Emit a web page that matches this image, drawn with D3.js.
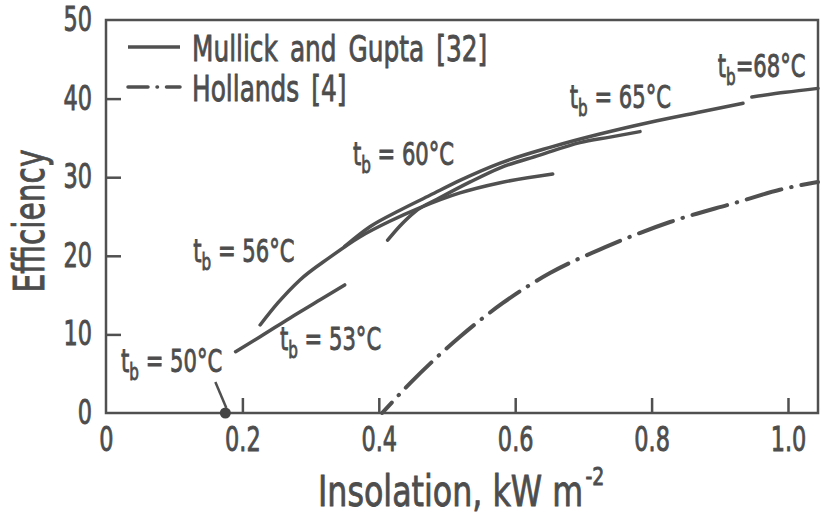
<!DOCTYPE html>
<html lang="en">

<head>
    <meta charset="UTF-8">
    <title>Efficiency vs Insolation</title>
    <script src="https://d3js.org/d3.v7.min.js"></script>
    <style>
        body {
            margin: 0;
            padding: 0;
            background: #fff;
        }

        text {
            font-family: "DejaVu Sans", "Liberation Sans", sans-serif;
            fill: #4d4d4d;
            stroke: #4d4d4d;
            stroke-width: 0.9px;
        }
    </style>
</head>

<body>
    <div id="main"></div>

    <script>
        // values: [insolation kW/m2, efficiency %]
        var curve53 = [[0.19, 7.8], [0.226, 9.7], [0.27, 12.1], [0.314, 14.4], [0.35, 16.3]];
        var curve56 = [[0.226, 11.2], [0.252, 14.0], [0.284, 16.9], [0.328, 19.8], [0.372, 22.4],
            [0.416, 24.4], [0.46, 26.1], [0.519, 28.0], [0.578, 29.3], [0.655, 30.4]];
        var curve60 = [[0.413, 22.0], [0.431, 23.8], [0.453, 25.6], [0.49, 27.4], [0.534, 29.4],
            [0.578, 31.2], [0.636, 32.8], [0.695, 34.4], [0.739, 35.1], [0.783, 35.8]];
        var curve65 = [[0.35, 21.2], [0.387, 23.7], [0.431, 25.8], [0.475, 27.7], [0.519, 29.6],
            [0.578, 31.8], [0.651, 33.8], [0.724, 35.5], [0.798, 37.0], [0.871, 38.3], [0.934, 39.4]];
        var curve68 = [[0.947, 40.2], [0.996, 40.8], [1.044, 41.3]];
        var hollands = [[0.405, 0], [0.446, 3.8], [0.519, 9.7], [0.582, 14.0], [0.651, 17.8],
            [0.732, 21.1], [0.827, 24.3], [0.925, 26.8], [0.988, 28.4], [1.044, 29.4]];
        var point50 = [0.175, 0];

        var xTicks = [0, 0.2, 0.4, 0.6, 0.8, 1.0];
        var xTickLabels = ["0", "0.2", "0.4", "0.6", "0.8", "1.0"];
        var yTicks = [0, 10, 20, 30, 40, 50];

        var tbLabels = ["50", "53", "56", "60", "65", "68"];
        var legendNames = ["Mullick and Gupta [32]", "Hollands [4]"];

        var width = 821;
        var height = 519;
        var ink = "#505050";

        var svg = d3.select("#main")
            .append("svg")
            .attr("width", width)
            .attr("height", height);

        var x = d3.scaleLinear().domain([0, 1.044]).range([106, 818]);
        var y = d3.scaleLinear().domain([0, 50]).range([413, 20]);

        // the original lettering is a narrow DIN face, so squeeze text sideways
        function narrowText(parent, px, py, sx) {
            return parent.append("text")
                .attr("transform", "translate(" + px + "," + py + ") scale(" + sx + ",1)");
        }

        // frame
        svg.append("rect")
            .attr("x", x(0)).attr("y", y(50))
            .attr("width", x(1.044) - x(0)).attr("height", y(0) - y(50))
            .attr("fill", "none").attr("stroke", ink).attr("stroke-width", 2.5);

        var xAxis = svg.append("g")
            .attr("transform", "translate(0," + y(0) + ")")
            .call(d3.axisBottom(x).tickValues(xTicks)
                .tickFormat(function(d, i) { return xTickLabels[i]; })
                .tickSize(-15).tickPadding(15));

        var yAxis = svg.append("g")
            .attr("transform", "translate(" + x(0) + ",0)")
            .call(d3.axisLeft(y).tickValues(yTicks).tickSize(-15).tickPadding(14));

        var tickSx = 0.68;
        [xAxis, yAxis].forEach(function(ax) {
            ax.select(".domain").remove();
            ax.selectAll("line").attr("stroke", ink).attr("stroke-width", 2.5);
            ax.selectAll("text")
                .attr("font-family", null)
                .attr("fill", null)
                .style("font-size", "33px")
                .attr("transform", "scale(" + tickSx + ",1)")
                .attr("x", function() {
                    var v = d3.select(this).attr("x");
                    return v == null ? null : +v / tickSx;
                });
        });
        xAxis.selectAll(".tick").filter(function(d) { return d == 0; }).select("line").remove();
        yAxis.selectAll(".tick").filter(function(d) { return d == 0 || d == 50; }).select("line").remove();

        // axis titles
        svg.append("text")
            .attr("transform", "translate(44,221) rotate(-90)")
            .attr("text-anchor", "middle")
            .attr("textLength", 143)
            .attr("lengthAdjust", "spacingAndGlyphs")
            .style("font-size", "42px")
            .text("Efficiency");

        var xt = narrowText(svg, 318, 506, 0.755).style("font-size", "42px");
        xt.append("tspan").text("Insolation, kW m");
        xt.append("tspan").attr("dx", 3).attr("dy", -21).style("font-size", "25px").text("-2");

        // curves
        var line = d3.line()
            .x(function(d) { return x(d[0]); })
            .y(function(d) { return y(d[1]); })
            .curve(d3.curveMonotoneX);

        var plot = svg.append("g");

        [curve53, curve56, curve60, curve65, curve68].forEach(function(c) {
            plot.append("path")
                .attr("d", line(c))
                .attr("fill", "none")
                .attr("stroke", ink)
                .attr("stroke-width", 3.5)
                .attr("stroke-linecap", "round");
        });

        plot.append("path")
            .attr("d", line(hollands))
            .attr("fill", "none")
            .attr("stroke", ink)
            .attr("stroke-width", 4)
            .attr("stroke-linecap", "round")
            .attr("stroke-dasharray", "36,10,0.5,10")
            .attr("stroke-dashoffset", 22);

        // t_b = 50 point and pointer
        plot.append("circle")
            .attr("cx", x(point50[0])).attr("cy", y(point50[1]))
            .attr("r", 5.5).attr("fill", "#444");
        plot.append("line")
            .attr("x1", x(point50[0]) - 10).attr("y1", y(point50[1]) - 31)
            .attr("x2", x(point50[0]) + 1).attr("y2", y(point50[1]) - 5)
            .attr("stroke", ink).attr("stroke-width", 2.5);

        // t_b labels, placed in data units
        var labelAt = [[0.022, 5.2], [0.255, 8.0], [0.128, 19.2], [0.362, 31.6], [0.68, 38.8], [0.897, 42.7]];
        tbLabels.forEach(function(t, i) {
            var lab = narrowText(svg, x(labelAt[i][0]), y(labelAt[i][1]), 0.66)
                .style("font-size", "32px");
            lab.append("tspan").text("t");
            lab.append("tspan").attr("dy", 8).style("font-size", "23px").text("b");
            var eq = (t == "68") ? "=" + t + "°C" : " = " + t + "°C";
            lab.append("tspan").attr("dy", -8).text(eq);
        });

        // legend
        var legend = svg.append("g");
        legendNames.forEach(function(name, i) {
            var ly = 47 + i * 40;
            legend.append("line")
                .attr("x1", 128).attr("x2", 180)
                .attr("y1", ly).attr("y2", ly)
                .attr("stroke", ink)
                .attr("stroke-width", 3.5)
                .attr("stroke-linecap", i == 0 ? "butt" : "round")
                .attr("stroke-dasharray", i == 0 ? null : "20,9,0.5,9");
            narrowText(legend, 192, ly + 14, 0.69)
                .style("font-size", "36px")
                .attr("word-spacing", 6)
                .text(name);
        });
    </script>

</body>

</html>
